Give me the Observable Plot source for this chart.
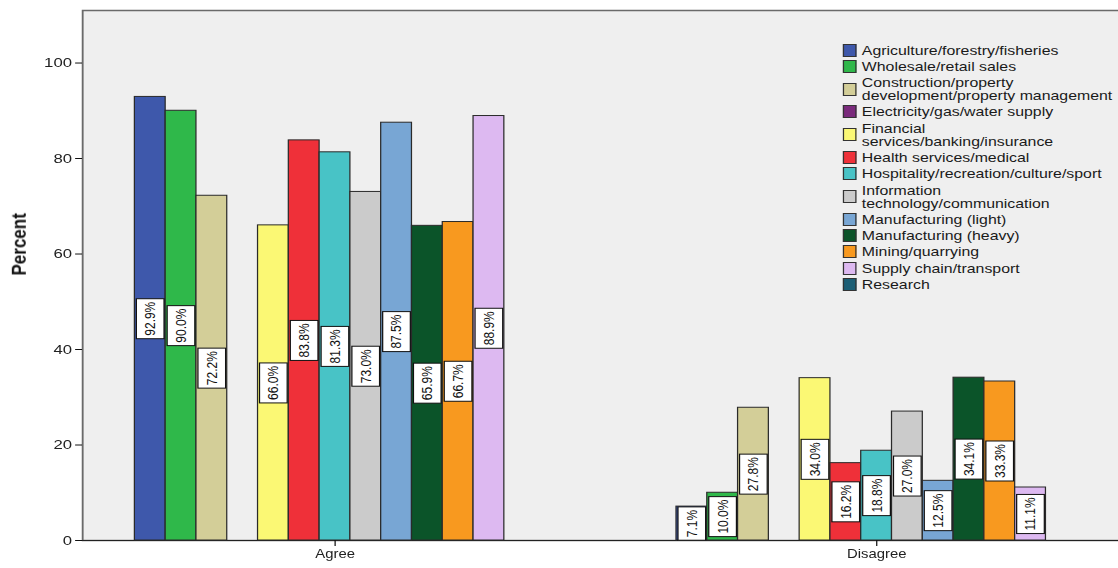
<!DOCTYPE html>
<html>
<head>
<meta charset="utf-8">
<script src="https://cdn.jsdelivr.net/npm/d3@7"></script>
<script src="https://cdn.jsdelivr.net/npm/@observablehq/plot@0.6"></script>
<style>
  body { margin: 0; background: #fff; overflow: hidden; }
  #wrap { position: relative; width: 1118px; height: 568px; overflow: hidden; }
  /* the chart is laid out in a narrower box and widened, so glyphs and bars share one horizontal stretch */
  #inner { position: absolute; left: 0; top: 0; width: 920px; height: 568px;
           transform: scaleX(1.2395); transform-origin: 0 0; }
  #legend { position: absolute; left: 680px; top: 43.5px;
            font: 12.8px "Liberation Sans", Arial, sans-serif; color: #1a1a1a; }
  .item { display: flex; align-items: center; margin-bottom: 3.3px; line-height: 13px; white-space: pre-line; }
  .sw { width: 11.3px; height: 13px; box-sizing: border-box; border: 1px solid #333; margin-right: 4px; flex: none; }
</style>
</head>
<body>
<div id="wrap"><div id="inner"><div id="legend"></div></div></div>
<script>
// Response groups along the bottom axis
const groups = ["Agree", "Disagree"];

// Industry sectors (line breaks are where the legend wraps)
const industries = [
  "Agriculture/forestry/fisheries",
  "Wholesale/retail sales",
  "Construction/property\ndevelopment/property management",
  "Electricity/gas/water supply",
  "Financial\nservices/banking/insurance",
  "Health services/medical",
  "Hospitality/recreation/culture/sport",
  "Information\ntechnology/communication",
  "Manufacturing (light)",
  "Manufacturing (heavy)",
  "Mining/quarrying",
  "Supply chain/transport",
  "Research"
];

const sectorColors = [
  "#3e58ab", "#2fb84a", "#d3ce98", "#7a2a7c", "#fbf874", "#ef3039", "#48c3c6",
  "#cbcbcb", "#78a6d4", "#0b5429", "#f8991f", "#ddb9f1", "#1b5e75"
];

// Percent of respondents per sector (null = no responses)
const agreePct    = [92.9, 90.0, 72.2, null, 66.0, 83.8, 81.3, 73.0, 87.5, 65.9, 66.7, 88.9, null];
const disagreePct = [ 7.1, 10.0, 27.8, null, 34.0, 16.2, 18.8, 27.0, 12.5, 34.1, 33.3, 11.1, null];

const yTicks = [0, 20, 40, 60, 80, 100];

const rows = [];
groups.forEach((g, gi) => {
  const vals = gi === 0 ? agreePct : disagreePct;
  industries.forEach((ind, i) => {
    if (vals[i] != null) rows.push({group: g, industry: ind, value: vals[i]});
  });
});

// Layout of the group bands
const W = 920, ML = 66.2, MR = 9.5;
const padInner = 0.261, padOuter = 0.0966;
const step = (W - ML - MR) / (groups.length - padInner + 2 * padOuter);
const outer = padOuter * step; // space between the plot edge and the first/last group

const chart = Plot.plot({
  width: W,
  height: 568,
  marginLeft: ML,
  marginRight: MR,
  marginTop: 10,
  marginBottom: 28,
  style: {fontFamily: "'Liberation Sans', Arial, sans-serif", background: "transparent", overflow: "visible"},
  fx: {domain: groups, paddingInner: padInner, paddingOuter: padOuter, round: false, label: null},
  x: {domain: industries, padding: 0, round: false, axis: null},
  y: {domain: [0, 111], label: null},
  color: {domain: industries, range: sectorColors},
  marks: [
    Plot.frame({facet: "super", fill: "#efefef", stroke: "#6a6a6a", strokeWidth: 1.5,
      insetLeft: -outer, insetRight: -outer}),
    Plot.frame({facet: "super", anchor: "bottom", stroke: "#222", strokeWidth: 1.2,
      insetLeft: -outer, insetRight: -outer}),
    Plot.barY(rows, {fx: "group", x: "industry", y: "value", fill: "industry", stroke: "#2a2a2a", strokeWidth: 1}),
    Plot.text(rows, {
      fx: "group", x: "industry", y: d => d.value / 2,
      text: d => d.value.toFixed(1) + "%",
      rotate: -90, fontSize: 12, fill: "#111"
    }),
    Plot.axisY({ticks: yTicks, tickSize: 5.6, tickPadding: 3, fontSize: 13.5, fill: "#222", stroke: "#111",
      label: null, dx: -outer}),
    Plot.axisFx({anchor: "bottom", tickSize: 6, tickPadding: 3, fontSize: 12, fill: "#222", stroke: "#111", label: null}),
    Plot.text(["Percent"], {facet: "super", frameAnchor: "left", dx: -outer - 51, rotate: -90,
      fontSize: 17, fontWeight: "bold", fill: "#111"})
  ]
});

const inner = document.getElementById("inner");
inner.insertBefore(chart, inner.firstChild);

// White boxes behind the percentage labels
chart.querySelectorAll("text").forEach(t => {
  if (!/%$/.test(t.textContent)) return;
  const bb = t.getBBox();
  const padLen = 3, padAcross = 4.5;
  const r = document.createElementNS("http://www.w3.org/2000/svg", "rect");
  r.setAttribute("x", bb.x - padLen);
  r.setAttribute("y", bb.y - padAcross);
  r.setAttribute("width", bb.width + 2 * padLen);
  r.setAttribute("height", bb.height + 2 * padAcross);
  r.setAttribute("fill", "#fff");
  r.setAttribute("stroke", "#111");
  r.setAttribute("stroke-width", 1);
  const tf = t.getAttribute("transform");
  if (tf) r.setAttribute("transform", tf);
  t.parentNode.insertBefore(r, t);
});

// Legend
const legend = document.getElementById("legend");
industries.forEach((name, i) => {
  const item = document.createElement("div");
  item.className = "item";
  const sw = document.createElement("span");
  sw.className = "sw";
  sw.style.background = sectorColors[i];
  const lab = document.createElement("span");
  lab.textContent = name;
  item.appendChild(sw);
  item.appendChild(lab);
  legend.appendChild(item);
});
</script>
</body>
</html>
